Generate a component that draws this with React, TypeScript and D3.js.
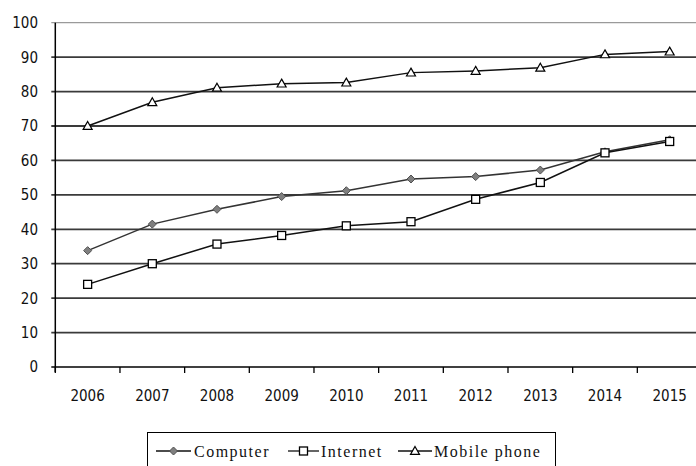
import React from "react";
import * as d3 from "d3";

const years = ["2006", "2007", "2008", "2009", "2010", "2011", "2012", "2013", "2014", "2015"];
const computer = [33.8, 41.5, 45.8, 49.5, 51.2, 54.6, 55.3, 57.2, 62.5, 66.0];
const internet = [24.0, 30.0, 35.7, 38.2, 41.0, 42.2, 48.7, 53.6, 62.2, 65.5];
const mobile = [70.0, 76.9, 81.1, 82.3, 82.6, 85.5, 86.0, 86.9, 90.8, 91.6];
const yTicks = [0, 10, 20, 30, 40, 50, 60, 70, 80, 90, 100];
const seriesNames = ["Computer", "Internet", "Mobile phone"];

const W = 696;
const H = 466;
const left = 55.3;
const right = 702;
const top = 22.7;
const bottom = 367;

function Marker({ kind, x, y }: { kind: string; x: number; y: number }) {
  if (kind === "diamond") {
    const s = 4;
    return (
      <path
        d={`M${x},${y - s}L${x + s},${y}L${x},${y + s}L${x - s},${y}Z`}
        fill="#7f7f7f"
        stroke="#505050"
        strokeWidth={1}
      />
    );
  }
  if (kind === "square") {
    const s = 4;
    return <rect x={x - s} y={y - s} width={2 * s} height={2 * s} fill="#fff" stroke="#000" strokeWidth={1.3} />;
  }
  const s = 4.5;
  return (
    <path
      d={`M${x},${y - s}L${x + s},${y + s * 0.75}L${x - s},${y + s * 0.75}Z`}
      fill="#fff"
      stroke="#000"
      strokeWidth={1.2}
    />
  );
}

export default function App() {
  const x = d3.scaleBand<string>().domain(years).range([left, right]).padding(0);
  const y = d3.scaleLinear().domain([0, 100]).range([bottom, top]);
  const cx = (yr: string) => (x(yr) as number) + x.bandwidth() / 2;
  const line = d3
    .line<number>()
    .x((_, i) => cx(years[i]))
    .y((v) => y(v));

  const series = [
    { name: seriesNames[0], data: computer, kind: "diamond", color: "#333" },
    { name: seriesNames[1], data: internet, kind: "square", color: "#111" },
    { name: seriesNames[2], data: mobile, kind: "triangle", color: "#111" },
  ];

  const boundaries = years.map((yr) => x(yr) as number).concat([right]);

  const legendItems = [
    { kind: "diamond", l0: 156, l1: 191, tx: 194 },
    { kind: "square", l0: 288, l1: 319, tx: 321 },
    { kind: "triangle", l0: 398, l1: 432, tx: 434 },
  ];

  return (
    <div style={{ position: "absolute", left: 0, top: 0 }}>
      <svg width={W} height={H} style={{ display: "block", background: "#fff" }}>
        {/* gridlines */}
        {yTicks.map((t) =>
          t === 0 ? null : (
            <line
              key={t}
              x1={left - 4}
              x2={right}
              y1={y(t)}
              y2={y(t)}
              stroke={t === 100 ? "#9a9a9a" : "#3a3a3a"}
              strokeWidth={t === 100 ? 1.3 : 1.8}
            />
          )
        )}
        {/* axes */}
        <line x1={left} x2={left} y1={top} y2={bottom + 5} stroke="#000" strokeWidth={1.5} />
        <line x1={left - 4} x2={right} y1={bottom} y2={bottom} stroke="#000" strokeWidth={1.5} />
        {boundaries.map((b, i) => (
          <line key={i} x1={b} x2={b} y1={bottom} y2={bottom + 6} stroke="#000" strokeWidth={1.3} />
        ))}
        {/* y tick labels */}
        {yTicks.map((t) => (
          <text
            key={t}
            x={38}
            y={y(t)}
            dy="0.36em"
            textAnchor="end"
            fontFamily="'DejaVu Sans Condensed', 'DejaVu Sans', sans-serif"
            fontStretch="condensed"
            fontSize={15}
            fill="#111"
          >
            {t}
          </text>
        ))}
        {/* x tick labels */}
        {years.map((yr) => (
          <text
            key={yr}
            x={cx(yr)}
            y={401}
            textAnchor="middle"
            fontFamily="'DejaVu Sans Condensed', 'DejaVu Sans', sans-serif"
            fontStretch="condensed"
            fontSize={15}
            fill="#111"
          >
            {yr}
          </text>
        ))}
        {/* series */}
        {series.map((s) => (
          <g key={s.name}>
            <path d={line(s.data) as string} fill="none" stroke={s.color} strokeWidth={1.5} />
            {s.data.map((v, i) => (
              <Marker key={i} kind={s.kind} x={cx(years[i])} y={y(v)} />
            ))}
          </g>
        ))}
        {/* legend */}
        <rect x={147.5} y={432.5} width={408} height={40} fill="#fff" stroke="#000" strokeWidth={1} />
        {legendItems.map((it, i) => (
          <g key={i}>
            <line x1={it.l0} x2={it.l1} y1={451} y2={451} stroke="#111" strokeWidth={1.3} />
            <Marker kind={it.kind} x={(it.l0 + it.l1) / 2} y={451} />
            <text
              x={it.tx}
              y={457}
              fontFamily="'Liberation Serif', 'Times New Roman', serif"
              fontSize={16}
              letterSpacing={1.5}
              fill="#111"
            >
              {seriesNames[i]}
            </text>
          </g>
        ))}
      </svg>
    </div>
  );
}
